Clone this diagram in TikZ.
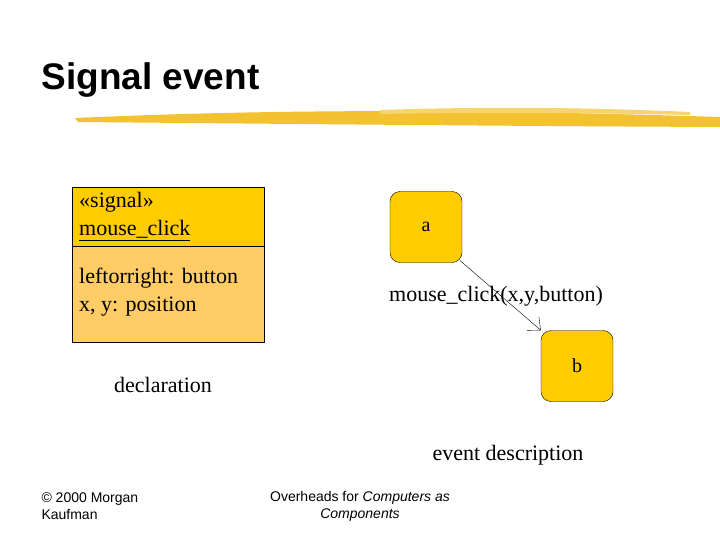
\documentclass[tikz,border=0pt]{standalone}
\usepackage{fontspec}
\setmainfont{Liberation Serif}[Ligatures=NoCommon]
\newfontfamily\arialfont{Liberation Sans}
\usetikzlibrary{positioning,arrows.meta}
\definecolor{sigyel}{HTML}{FFCC00}
\definecolor{sigpale}{HTML}{FFCC66}
\definecolor{brush}{HTML}{F2C230}
\tikzset{state node/.style={draw, fill=sigyel, rounded corners=10pt, minimum width=72pt, minimum height=71pt},
  label text/.style={font=\fontsize{22}{28}\selectfont, align=left, inner sep=0pt},}
\begin{document}
\begin{tikzpicture}[x=1pt, y=-1pt]
        \useasboundingbox (0,0) rectangle (720,540);
        % Title and brush
        \node[anchor=west, font=\arialfont\bfseries\fontsize{37}{40}\selectfont] (title) at (38,80) {Signal event};
        \fill[brush] (75,118) .. controls (300,108) and (500,110) .. (720,117)
          -- (720,127) .. controls (500,126) and (300,124) .. (78,122) -- cycle;
        \fill[brush!70] (380,110) .. controls (500,106) and (600,108) .. (690,112)
          -- (690,115) .. controls (600,113) and (500,112) .. (380,114) -- cycle;
        % Signal declaration
        \draw[fill=sigyel] (72,187) rectangle (264,246);
        \draw[fill=sigpale] (72,246) rectangle (264,342);
        \node[label text, anchor=north west] (sig) at (79,192) {\textless\textless signal\textgreater\textgreater\\\underline{mouse\_click}};
        \node[label text, anchor=north west] (attr) at (79,268) {leftorright: button\\x, y: position};
        \node[label text] (decl) at (163,385) {declaration};
        % States
        \node[state node] (a) at (426,227) {\fontsize{20}{23}\selectfont a};
        \node[state node] (b) at (577,366) {\fontsize{20}{23}\selectfont b};
        \draw[-{Straight Barb[length=10pt,width=18pt]}] (a.south east) ++(-2,-2) coordinate (a0) (a0) -- (b.north west);
        \node[label text] (evt) at (496,296) {mouse\_click(x,y,button)};
        \node[label text] (desc) at (508,455) {event description};
        % Footer
        \node[font=\arialfont\fontsize{14}{17}\selectfont, align=left, anchor=north west] (copy) at (38,489) {© 2000 Morgan\\Kaufman};
        \node[font=\arialfont\fontsize{14}{17}\selectfont, align=center] (foot) at (360,506) {Overheads for \textit{Computers as}\\\textit{Components}};
    \end{tikzpicture}
\end{document}
